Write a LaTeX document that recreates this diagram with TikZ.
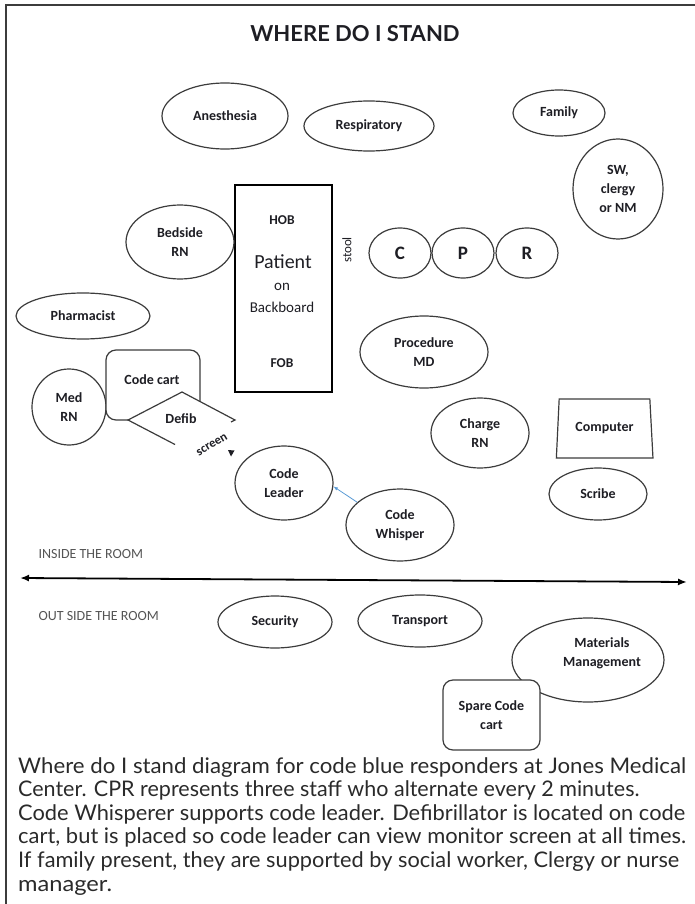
\documentclass[tikz,border=0pt]{standalone}
\usepackage{graphicx}
\usepackage{fontspec}
\setmainfont{Carlito}
\newfontfamily\latofam{Lato}
\usetikzlibrary{shapes.geometric,arrows.meta}

\definecolor{inkline}{HTML}{3C3C3C}
\definecolor{inktext}{HTML}{1E1E24}
\definecolor{whisperblue}{HTML}{5B9BD5}
\definecolor{roomgray}{HTML}{555555}
\definecolor{captext}{HTML}{2A2A2A}

% a caption line set to a given width, keeping its natural height
\newcommand{\capfit}[2]{\resizebox{#1pt}{\height}{#2}}

\begin{document}
\begin{tikzpicture}[x=1pt,y=-1pt,
  lbl/.style={font=\bfseries\fontsize{14}{19}\selectfont, text=inktext, align=center},
  wh/.style 2 args={minimum width=#1pt, minimum height=#2pt},
  staff/.style={ellipse, draw=inkline, line width=1.2pt, inner sep=0pt, fill=white, lbl},
  cartbox/.style={rectangle, rounded corners=10pt, draw=inkline, line width=1.2pt, fill=white, inner sep=0pt, lbl},
  cprletter/.style={staff, wh={62}{50}, font=\bfseries\fontsize{19}{22}\selectfont},
  roomtag/.style={font=\fontsize{14}{16}\selectfont, text=roomgray, anchor=base west},
  capline/.style={font=\latofam\fontsize{21.5}{24}\selectfont, text=captext, anchor=base west, inner sep=0pt}
]
\useasboundingbox (0,0) rectangle (695,904);

% frame: top and left edges only
\coordinate (frameBL) at (6,904);
\coordinate (frameTL) at (6,5);
\coordinate (frameTR) at (695,5);
\draw[inkline, line width=1.3pt] (frameBL) -- (frameTL) -- (frameTR);

% title
\node[font=\latofam\bfseries\fontsize{22}{26}\selectfont, text=inktext, anchor=base] (title) at (355,42) {WHERE DO I STAND};

% top row of staff
\node[staff, wh={126}{66}] (anes) at (225,116) {Anesthesia};
\node[staff, wh={130}{50}] (resp) at (369,126) {Respiratory};
\node[staff, wh={92}{46}] (family) at (559,113) {Family};
\node[staff, wh={90}{100}] (sw) at (618,189) {SW,\\clergy\\or NM};

% patient on the backboard
\node[draw=black, line width=2.8pt, wh={97}{207}, inner sep=0pt] (bed) at (283.5,288.5) {};
\node[lbl, font=\bfseries\fontsize{13.5}{16}\selectfont] (hob) at (282,220) {HOB};
\node[text=inktext, font=\fontsize{20}{24}\selectfont] (patient) at (283,262) {Patient};
\node[text=inktext, font=\fontsize{15}{18}\selectfont] (on) at (282,287) {on};
\node[text=inktext, font=\fontsize{15}{18}\selectfont] (backboard) at (282,307) {Backboard};
\node[lbl, font=\bfseries\fontsize{13.5}{16}\selectfont] (fob) at (282,363) {FOB};
\node[text=inktext, font=\fontsize{13}{15}\selectfont, rotate=90] (stool) at (347,250) {stool};

% compressions team
\node[cprletter] (cC) at (400,253) {C};
\node[cprletter] (cP) at (463,253) {P};
\node[cprletter] (cR) at (527,253) {R};

% left side of the bed
\node[staff, wh={108}{74}] (bedside) at (180,242) {Bedside\\RN};
\node[staff, wh={134}{46}] (pharm) at (83,316) {Pharmacist};
\node[staff, wh={74}{76}] (medrn) at (69,407) {Med\\RN};
\node[cartbox, wh={94}{70}] (cart) at (153,385) {};
\node[lbl] (cartlbl) at (152,380) {Code cart};

% defibrillator sitting on the cart
\coordinate (dL) at (128,420);
\coordinate (dT) at (182,392);
\coordinate (dR) at (235,420);
\coordinate (dB) at (182,448);
\coordinate (dBend) at (175,444.5);
\coordinate (dRend) at (231,422);
\fill[white] (dL) -- (dT) -- (dR) -- (dB) -- cycle;
\draw[inkline, line width=1.2pt, line join=miter] (dBend) -- (dL) -- (dT) -- (dR) -- (dRend);
\node[lbl, inner sep=1pt] (defib) at (181,419) {Defib};
\node[lbl, inner sep=0pt, font=\bfseries\fontsize{12.5}{15}\selectfont, rotate=30] (screen) at (212,445) {screen};
\fill[inktext] (228,450) -- (234.5,450.5) -- (231,456.5) -- cycle;

% team around the leader
\node[staff, wh={98}{74}] (leader) at (284,483) {Code\\Leader};
\node[staff, wh={108}{72}] (whisper) at (400,525) {Code\\Whisper};
\draw[whisperblue, line width=0.8pt, -{Latex[length=4.5pt,width=3.5pt]}] (whisper.152) -- (leader.-4);

\node[staff, wh={128}{72}] (proc) at (424,352) {Procedure\\MD};
\node[staff, wh={98}{70}] (charge) at (480,433) {Charge\\RN};
\node[trapezium, draw=inkline, line width=1.2pt, trapezium left angle=81, trapezium right angle=80,
      trapezium stretches=true, wh={97}{59}, inner sep=0pt, lbl] (computer) at (604.5,428.5) {Computer};
\node[staff, wh={98}{52}] (scribe) at (598,494) {Scribe};

% room boundary
\node[roomtag] (inside) at (35,558) {INSIDE THE ROOM};
\coordinate (roomL) at (20,578);
\coordinate (roomR) at (687,582);
\draw[black, line width=1.8pt, {Latex[length=9pt,width=7pt]}-{Latex[length=9pt,width=7pt]}] (roomL) -- (roomR);
\node[roomtag] (outside) at (35,620) {OUT SIDE THE ROOM};

% outside the room
\node[staff, wh={114}{52}] (security) at (275,622) {Security};
\node[staff, wh={124}{52}] (transport) at (420,621) {Transport};
\node[staff, wh={152}{84}] (materials) at (588,660) {};
\node[lbl] (matlbl) at (602,653) {Materials\\Management};
\node[cartbox, wh={97}{70}] (spare) at (491.5,715) {Spare Code\\cart};

% caption
\node[capline] (cap1) at (18,773) {\capfit{668}{Where do I stand diagram for code blue responders at Jones Medical}};
\node[capline] (cap2) at (18,796.6) {Center. CPR represents three staff who alternate every 2 minutes.};
\node[capline] (cap3) at (18,820.2) {\capfit{667}{Code Whisperer supports code leader. Defibrillator is located on code}};
\node[capline] (cap4) at (18,843.8) {\capfit{668}{cart, but is placed so code leader can view monitor screen at all times.}};
\node[capline] (cap5) at (18,867.4) {\capfit{661}{If family present, they are supported by social worker, Clergy or nurse}};
\node[capline] (cap6) at (18,891) {\capfit{94}{manager.}};
\end{tikzpicture}
\end{document}
